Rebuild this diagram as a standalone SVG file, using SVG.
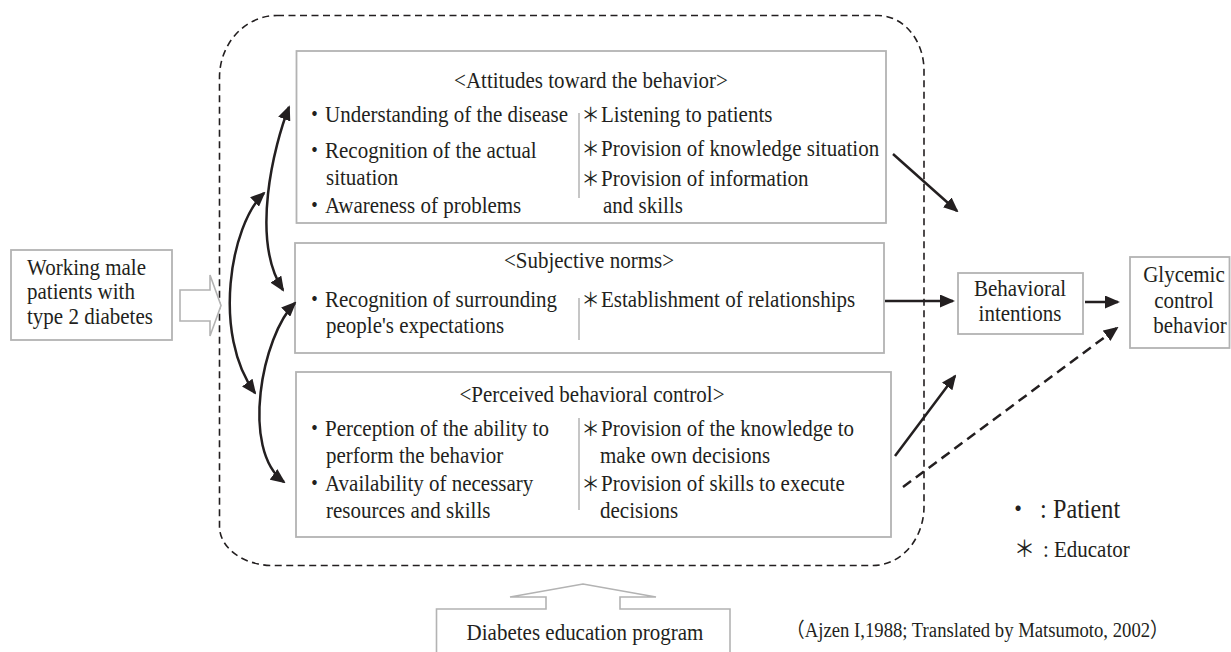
<svg xmlns="http://www.w3.org/2000/svg" width="1231" height="652" viewBox="0 0 1231 652">
  <style>
    text { font-family: "Liberation Serif", "Times New Roman", serif; font-size: 23px; fill: #231f20; }
    .cjk { font-family: "Noto Sans CJK JP", "Noto Sans CJK SC", sans-serif; }
    .ast { font-size: 20px; }
    .mid { text-anchor: middle; }
    .box { fill: #ffffff; stroke: #b3b3b3; stroke-width: 1.8; }
    .sep { stroke: #b3b3b3; stroke-width: 1.5; }
    .hollow { fill: #ffffff; stroke: #b3b3b3; stroke-width: 1.6; stroke-linejoin: miter; }
    .area { fill: none; stroke: #231f20; stroke-width: 1.6; stroke-dasharray: 7 4.5; }
    .arrow { fill: none; stroke: #231f20; stroke-width: 2.5; marker-end: url(#ah); }
    .both { marker-start: url(#ah); }
    .dash { stroke-dasharray: 10 6; }
  </style>
  <defs>
    <marker id="ah" viewBox="0 0 15 13" refX="13" refY="6.5" markerWidth="15" markerHeight="13" markerUnits="userSpaceOnUse" orient="auto-start-reverse">
      <path d="M0,0 L15,6.5 L0,13 Z" fill="#231f20"/>
    </marker>
  </defs>

  <!-- dashed boundary around the three determinants -->
  <path class="area" d="M277,15.5 H878 A46,55 0 0 1 924,70.5 V507 A51,59 0 0 1 873,565.5 H273 A53.5,39 0 0 1 219.5,526.5 V77.5 A57.5,62 0 0 1 277,15.5 Z"/>

  <!-- text groups use a narrow serif: x positions are divided by 0.913 -->
  <g id="working-patients">
    <rect class="box" x="11" y="250" width="161" height="90"/>
    <g transform="scale(0.913 1)">
      <text x="29.6" y="275">Working male</text>
      <text x="29.6" y="299">patients with</text>
      <text x="29.6" y="324">type 2 diabetes</text>
    </g>
  </g>

  <g id="input-arrow">
    <polygon class="hollow" points="180,290 210,290 210,275 221,305.5 210,336 210,321 180,321"/>
  </g>

  <g id="attitudes">
    <rect class="box" x="296.5" y="51" width="589.5" height="172"/>
    <line class="sep" x1="579" y1="113" x2="579" y2="198"/>
    <g transform="scale(0.913 1)">
      <text class="mid" x="647.3" y="88">&lt;Attitudes toward the behavior&gt;</text>
      <text x="333" y="122"><tspan class="cjk">・</tspan>Understanding of the disease</text>
      <text x="333" y="158"><tspan class="cjk">・</tspan>Recognition of the actual</text>
      <text x="357.1" y="185">situation</text>
      <text x="333" y="213"><tspan class="cjk">・</tspan>Awareness of problems</text>
      <text x="636.8" y="122"><tspan class="cjk ast">＊</tspan><tspan dx="1.5">Listening to patients</tspan></text>
      <text x="636.8" y="156"><tspan class="cjk ast">＊</tspan><tspan dx="1.5">Provision of knowledge situation</tspan></text>
      <text x="636.8" y="186"><tspan class="cjk ast">＊</tspan><tspan dx="1.5">Provision of information</tspan></text>
      <text x="660.5" y="213">and skills</text>
    </g>
  </g>

  <g id="subjective-norms">
    <rect class="box" x="295" y="243" width="589" height="110"/>
    <line class="sep" x1="579" y1="298" x2="579" y2="340"/>
    <g transform="scale(0.913 1)">
      <text class="mid" x="645.1" y="268">&lt;Subjective norms&gt;</text>
      <text x="333" y="307"><tspan class="cjk">・</tspan>Recognition of surrounding</text>
      <text x="357.1" y="333">people's expectations</text>
      <text x="636.8" y="307"><tspan class="cjk ast">＊</tspan><tspan dx="1.5">Establishment of relationships</tspan></text>
    </g>
  </g>

  <g id="perceived-control">
    <rect class="box" x="296" y="372" width="595" height="165"/>
    <line class="sep" x1="579" y1="418" x2="579" y2="510"/>
    <g transform="scale(0.913 1)">
      <text class="mid" x="648.4" y="402">&lt;Perceived behavioral control&gt;</text>
      <text x="333" y="436"><tspan class="cjk">・</tspan>Perception of the ability to</text>
      <text x="357.1" y="463">perform the behavior</text>
      <text x="333" y="491"><tspan class="cjk">・</tspan>Availability of necessary</text>
      <text x="357.1" y="518">resources and skills</text>
      <text x="636.8" y="436"><tspan class="cjk ast">＊</tspan><tspan dx="1.5">Provision of the knowledge to</tspan></text>
      <text x="657.2" y="463">make own decisions</text>
      <text x="636.8" y="491"><tspan class="cjk ast">＊</tspan><tspan dx="1.5">Provision of skills to execute</tspan></text>
      <text x="657.2" y="518">decisions</text>
    </g>
  </g>

  <g id="behavioral-intentions">
    <rect class="box" x="958" y="273" width="125" height="61"/>
    <g transform="scale(0.913 1)">
      <text class="mid" x="1117.2" y="296">Behavioral</text>
      <text class="mid" x="1117.2" y="321">intentions</text>
    </g>
  </g>

  <g id="glycemic-control">
    <rect class="box" x="1130" y="257" width="99.5" height="91"/>
    <g transform="scale(0.913 1)">
      <text class="mid" x="1296.8" y="282">Glycemic</text>
      <text class="mid" x="1296.8" y="308">control</text>
      <text class="mid" x="1303.4" y="333">behavior</text>
    </g>
  </g>

  <g id="education-program">
    <path class="hollow" d="M436.5,652 V609 H546 V597 H510 L583,584 L656,597 H620 V609 H730 V652"/>
    <g transform="scale(0.913 1)">
      <text class="mid" x="640.7" y="640">Diabetes education program</text>
    </g>
  </g>

  <g id="connectors">
    <path class="arrow both" d="M289,107 C274,145 250,240 283,290"/>
    <path class="arrow both" d="M264,193 C230,225 212,335 255,393"/>
    <path class="arrow both" d="M295,303 C262,335 240,450 284,482"/>
    <path class="arrow" d="M893,154 L957,211"/>
    <path class="arrow" d="M885,301 L953,301"/>
    <path class="arrow" d="M895,456 L955,376"/>
    <path class="arrow dash" d="M903,487 L1117,328"/>
    <path class="arrow" d="M1085,302 L1118,302"/>
  </g>

  <g id="legend" transform="scale(0.913 1)">
    <text y="518" style="font-size:26.5px"><tspan class="cjk" x="1101.9">・</tspan><tspan x="1139.1">:</tspan><tspan x="1153.3">Patient</tspan></text>
    <text y="557"><tspan class="cjk" x="1110.6">＊</tspan><tspan x="1142.4">:</tspan><tspan x="1154.4">Educator</tspan></text>
  </g>

  <g id="citation" transform="scale(0.913 1)">
    <text x="860.9" y="637" style="font-size:20.5px"><tspan class="cjk">（</tspan>Ajzen I,1988; Translated by Matsumoto, 2002<tspan class="cjk">）</tspan></text>
  </g>
</svg>
